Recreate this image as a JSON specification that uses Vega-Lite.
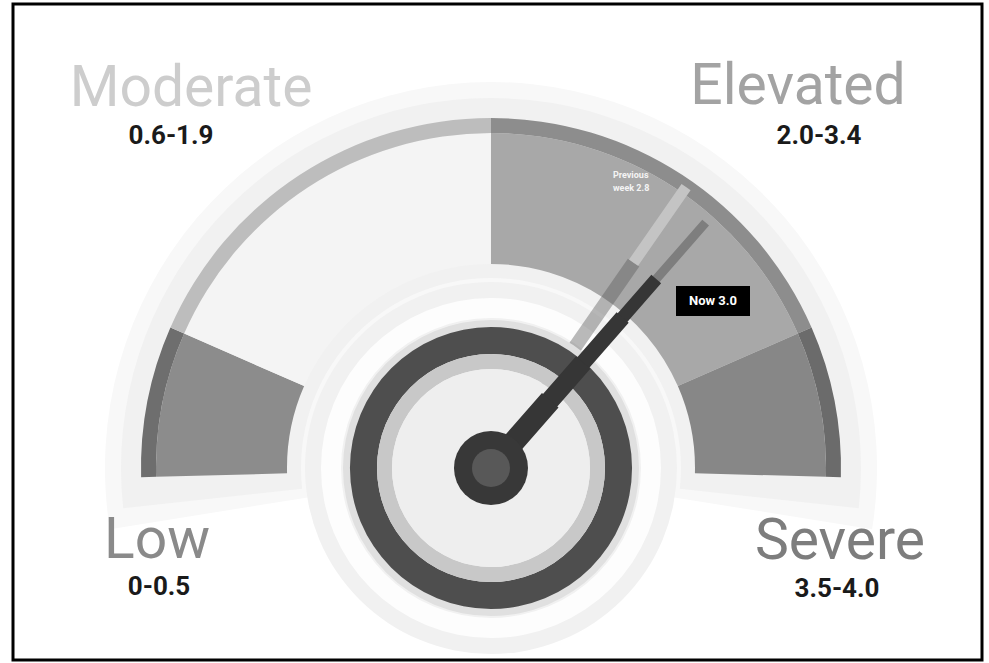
{
  "$schema": "https://vega.github.io/schema/vega-lite/v6.json",
  "width": 969,
  "height": 656,
  "autosize": {"type": "none"},
  "padding": {"left": 13, "top": 4, "right": 7, "bottom": 3},
  "background": "#ffffff",
  "config": {"view": {"stroke": "#000000", "strokeWidth": 3}, "font": "Roboto"},
  "datasets": {
    "bands": [
      {"band": "Low", "range": "0-0.5", "lo": 0, "hi": 0.55},
      {"band": "Moderate", "range": "0.6-1.9", "lo": 0.55, "hi": 2.0},
      {"band": "Elevated", "range": "2.0-3.4", "lo": 2.0, "hi": 3.45},
      {"band": "Severe", "range": "3.5-4.0", "lo": 3.45, "hi": 4.0}
    ],
    "needles": [
      {"reading": "Previous week", "value": 2.76, "label": "Previous\nweek 2.8"},
      {"reading": "Now", "value": 2.9, "label": "Now 3.0"}
    ],
    "dial": [{"part": "dial"}]
  },
  "layer": [
    {
      "encoding": {
        "x": {"datum": 0, "type": "quantitative", "scale": {"domain": [-1.3657, 1.4029], "nice": false, "zero": false}, "axis": null},
        "y": {"datum": 0, "type": "quantitative", "scale": {"domain": [-0.5486, 1.3257], "nice": false, "zero": false}, "axis": null}
      },
      "layer": [
        {"data": {"name": "dial"}, "mark": {"type": "arc", "theta": -1.73, "theta2": 1.73, "radius": 386, "radius2": 184, "fill": "#f8f8f8"}},
        {"data": {"name": "dial"}, "mark": {"type": "arc", "theta": -1.68, "theta2": 1.68, "radius": 370, "radius2": 190, "fill": "#f1f1f1"}},
        {"data": {"name": "dial"}, "mark": {"type": "arc", "theta": 0, "theta2": 6.2832, "radius": 186, "radius2": 0, "fill": "#f1f1f1"}},
        {"data": {"name": "dial"}, "mark": {"type": "arc", "theta": 0, "theta2": 6.2832, "radius": 170, "radius2": 150, "fill": "#fdfdfd"}},
        {
          "data": {"name": "bands"},
          "mark": {"type": "arc", "radius": 335, "radius2": 204},
          "encoding": {
            "theta": {"field": "lo", "type": "quantitative", "scale": {"domain": [0, 4], "range": [-1.597, 1.597], "nice": false, "zero": false}},
            "theta2": {"field": "hi"},
            "color": {"field": "band", "type": "nominal", "scale": {"domain": ["Low", "Moderate", "Elevated", "Severe"], "range": ["#8c8c8c", "#f4f4f4", "#a8a8a8", "#878787"]}, "legend": null}
          }
        },
        {
          "data": {"name": "bands"},
          "mark": {"type": "arc", "radius": 350, "radius2": 335},
          "encoding": {
            "theta": {"field": "lo", "type": "quantitative"},
            "theta2": {"field": "hi"},
            "color": {"field": "band", "type": "nominal", "scale": {"domain": ["Low", "Moderate", "Elevated", "Severe"], "range": ["#6e6e6e", "#bdbdbd", "#8d8d8d", "#6b6b6b"]}, "legend": null}
          }
        },
        {
          "data": {"name": "needles"},
          "transform": [{"filter": "datum.reading == 'Previous week'"}],
          "mark": {"type": "arc", "radius": 250, "radius2": 20, "stroke": "#5a5a5a", "strokeOpacity": 0.42, "strokeWidth": 14, "fillOpacity": 0},
          "encoding": {"theta": {"field": "value", "type": "quantitative"}, "theta2": {"field": "value"}}
        },
        {
          "data": {"name": "needles"},
          "transform": [{"filter": "datum.reading == 'Previous week'"}],
          "mark": {"type": "arc", "radius": 342, "radius2": 250, "stroke": "#c4c4c4", "strokeWidth": 11, "fillOpacity": 0},
          "encoding": {"theta": {"field": "value", "type": "quantitative"}, "theta2": {"field": "value"}}
        },
        {
          "data": {"name": "needles"},
          "transform": [{"filter": "datum.reading == 'Now'"}],
          "mark": {"type": "arc", "radius": 326, "radius2": 250, "stroke": "#7e7e7e", "strokeWidth": 9, "fillOpacity": 0},
          "encoding": {"theta": {"field": "value", "type": "quantitative"}, "theta2": {"field": "value"}}
        },
        {"data": {"name": "dial"}, "mark": {"type": "arc", "theta": 0, "theta2": 6.2832, "radius": 148, "radius2": 140, "fill": "#e0e0e0"}},
        {"data": {"name": "dial"}, "mark": {"type": "arc", "theta": 0, "theta2": 6.2832, "radius": 141, "radius2": 114, "fill": "#4e4e4e"}},
        {"data": {"name": "dial"}, "mark": {"type": "arc", "theta": 0, "theta2": 6.2832, "radius": 114, "radius2": 99, "fill": "#c8c8c8"}},
        {"data": {"name": "dial"}, "mark": {"type": "arc", "theta": 0, "theta2": 6.2832, "radius": 99, "radius2": 0, "fill": "#eeeeee"}},
        {
          "data": {"name": "needles"},
          "transform": [{"filter": "datum.reading == 'Now'"}],
          "mark": {"type": "arc", "radius": 251, "radius2": 0, "stroke": "#363636", "strokeWidth": 13, "fillOpacity": 0},
          "encoding": {"theta": {"field": "value", "type": "quantitative"}, "theta2": {"field": "value"}}
        },
        {
          "data": {"name": "needles"},
          "transform": [{"filter": "datum.reading == 'Now'"}],
          "mark": {"type": "arc", "radius": 200, "radius2": 0, "stroke": "#363636", "strokeWidth": 16, "fillOpacity": 0},
          "encoding": {"theta": {"field": "value", "type": "quantitative"}, "theta2": {"field": "value"}}
        },
        {
          "data": {"name": "needles"},
          "transform": [{"filter": "datum.reading == 'Now'"}],
          "mark": {"type": "arc", "radius": 140, "radius2": 0, "stroke": "#363636", "strokeWidth": 19, "fillOpacity": 0},
          "encoding": {"theta": {"field": "value", "type": "quantitative"}, "theta2": {"field": "value"}}
        },
        {
          "data": {"name": "needles"},
          "transform": [{"filter": "datum.reading == 'Now'"}],
          "mark": {"type": "arc", "radius": 90, "radius2": 0, "stroke": "#363636", "strokeWidth": 22, "fillOpacity": 0},
          "encoding": {"theta": {"field": "value", "type": "quantitative"}, "theta2": {"field": "value"}}
        },
        {"data": {"name": "dial"}, "mark": {"type": "arc", "theta": 0, "theta2": 6.2832, "radius": 37, "radius2": 0, "fill": "#383838"}},
        {"data": {"name": "dial"}, "mark": {"type": "arc", "theta": 0, "theta2": 6.2832, "radius": 19, "radius2": 0, "fill": "#585858"}}
      ],
      "resolve": {"scale": {"color": "independent"}}
    },
    {
      "layer": [
        {
          "data": {"name": "bands"},
          "mark": {"type": "text", "fontSize": 57, "font": "Roboto", "align": "center", "baseline": "alphabetic"},
          "encoding": {
            "x": {"field": "lo", "type": "quantitative", "scale": {"domain": [0, 0.55, 2.0, 3.45], "range": [144, 178, 785, 827], "nice": false, "zero": false}, "axis": null},
            "y": {"field": "lo", "type": "quantitative", "scale": {"domain": [0, 0.55, 2.0, 3.45], "range": [554, 102, 100, 555], "nice": false, "zero": false}, "axis": null},
            "text": {"field": "band"},
            "color": {"field": "band", "type": "nominal", "scale": {"domain": ["Low", "Moderate", "Elevated", "Severe"], "range": ["#8a8a8a", "#cdcdcd", "#a3a3a3", "#7d7d7d"]}, "legend": null}
          }
        },
        {
          "data": {"name": "bands"},
          "mark": {"type": "text", "fontSize": 26, "font": "Roboto", "fontWeight": "bold", "align": "center", "baseline": "alphabetic", "fill": "#1a1a1a"},
          "encoding": {
            "x": {"field": "lo", "type": "quantitative", "scale": {"domain": [0, 0.55, 2.0, 3.45], "range": [146, 158, 806, 824], "nice": false, "zero": false}, "axis": null},
            "y": {"field": "lo", "type": "quantitative", "scale": {"domain": [0, 0.55, 2.0, 3.45], "range": [591, 140, 140, 593], "nice": false, "zero": false}, "axis": null},
            "text": {"field": "range"}
          }
        },
        {
          "data": {"name": "needles"},
          "transform": [{"filter": "datum.reading == 'Now'"}],
          "mark": {"type": "point", "shape": "M-1,-0.405L1,-0.405L1,0.405L-1,0.405Z", "size": 5476, "filled": true, "fill": "#000000", "opacity": 1, "strokeWidth": 0},
          "encoding": {
            "x": {"field": "value", "type": "quantitative", "scale": {"domain": [2.76, 2.9], "range": [600, 700], "nice": false, "zero": false}, "axis": null},
            "y": {"field": "value", "type": "quantitative", "scale": {"domain": [2.76, 2.9], "range": [174, 297], "nice": false, "zero": false}, "axis": null}
          }
        },
        {
          "data": {"name": "needles"},
          "transform": [{"filter": "datum.reading == 'Now'"}],
          "mark": {"type": "text", "fontSize": 13, "font": "Roboto", "fontWeight": "bold", "align": "center", "baseline": "middle", "fill": "#ffffff"},
          "encoding": {
            "x": {"field": "value", "type": "quantitative", "scale": {"domain": [2.76, 2.9], "range": [600, 700], "nice": false, "zero": false}, "axis": null},
            "y": {"field": "value", "type": "quantitative", "scale": {"domain": [2.76, 2.9], "range": [174, 297], "nice": false, "zero": false}, "axis": null},
            "text": {"field": "label"}
          }
        },
        {
          "data": {"name": "needles"},
          "transform": [{"filter": "datum.reading == 'Previous week'"}],
          "mark": {"type": "text", "fontSize": 9, "font": "Roboto", "fontWeight": "bold", "align": "left", "baseline": "alphabetic", "fill": "#f4f4f4", "lineBreak": "\n", "lineHeight": 13},
          "encoding": {
            "x": {"field": "value", "type": "quantitative", "scale": {"domain": [2.76, 2.9], "range": [600, 700], "nice": false, "zero": false}, "axis": null},
            "y": {"field": "value", "type": "quantitative", "scale": {"domain": [2.76, 2.9], "range": [174, 297], "nice": false, "zero": false}, "axis": null},
            "text": {"field": "label"}
          }
        }
      ],
      "resolve": {"scale": {"x": "independent", "y": "independent", "color": "independent"}}
    }
  ],
  "resolve": {"scale": {"x": "independent", "y": "independent", "color": "independent"}}
}
